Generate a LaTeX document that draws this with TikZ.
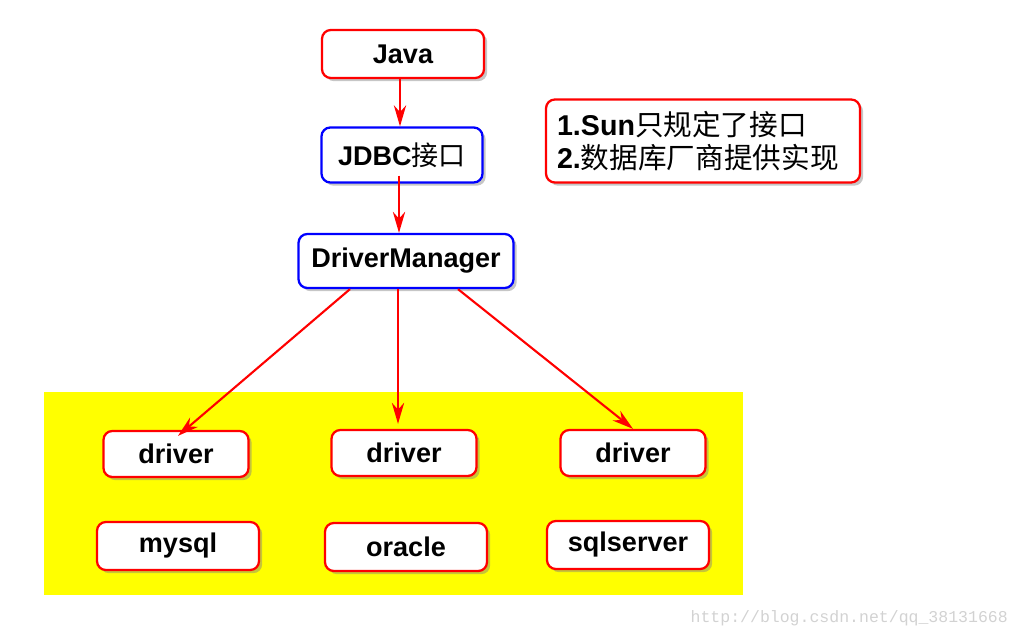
\documentclass[tikz,border=0pt]{standalone}
\usepackage{fontspec}
\setmainfont{Liberation Sans}
\newfontfamily\cjk{Noto Sans CJK SC}
\newfontfamily\wmfont{Liberation Mono}
\usepackage{xcolor}
\definecolor{areayellow}{RGB}{255,255,0}
\usepackage{tikz}
\usetikzlibrary{arrows.meta, positioning, shadows, calc}

\begin{document}
\begin{tikzpicture}[
    x=0.02cm, y=-0.02cm,
    box/.style={rectangle, draw, line width=1.3pt, rounded corners=5pt, fill=white, inner sep=0pt, align=center,
        font=\fontsize{15.4}{18.5}\selectfont\bfseries,
        drop shadow={shadow xshift=1.8pt, shadow yshift=-1.8pt, opacity=0.45, fill=gray}},
    redbox/.style={box, draw=red},
    bluebox/.style={box, draw=blue},
    arrow/.style={-{Stealth[length=12pt, width=7pt]}, red, line width=1.2pt},
]
    \useasboundingbox (0,0) rectangle (1024,638);

    % Vendor area
    \fill[areayellow] (44,392) rectangle (743,595);

    % Top chain
    \node[redbox, minimum width=3.24cm, minimum height=0.96cm] (java) at (403,54) {Java};
    \node[bluebox, minimum width=3.22cm, minimum height=1.1cm] (jdbc) at (402,155) {JDBC{\mdseries\cjk 接口}};
    \node[bluebox, minimum width=4.3cm, minimum height=1.08cm] (dm) at (406,261) {DriverManager};

    % Note
    \node[redbox, minimum height=1.66cm, inner xsep=0.22cm, text width=5.84cm, align=left,
        font=\fontsize{16.3}{18.8}\selectfont\bfseries] (note) at (703,141)
        {1.Sun{\mdseries\cjk 只规定了接口}\\2.{\mdseries\cjk 数据库厂商提供实现}};

    % Drivers
    \node[redbox, minimum width=2.9cm, minimum height=0.92cm] (drv1) at (176,454) {driver};
    \node[redbox, minimum width=2.9cm, minimum height=0.92cm] (drv2) at (404,453) {driver};
    \node[redbox, minimum width=2.9cm, minimum height=0.92cm] (drv3) at (633,453) {driver};

    % Databases
    \node[redbox, minimum width=3.24cm, minimum height=0.96cm] (mysql) at (178,546) {mysql};
    \node[redbox, minimum width=3.24cm, minimum height=0.96cm] (oracle) at (406,547) {oracle};
    \node[redbox, minimum width=3.24cm, minimum height=0.96cm] (sqlserver) at (628,545) {sqlserver};

    % Arrows
    \draw[arrow] ($(java.south)+(-3,0)$) -- ($(jdbc.north)+(-2,0)$);
    \draw[arrow] ($(jdbc.south)+(-3,-8)$) -- ($(dm.north)+(-7,0)$);
    \draw[arrow] ($(dm.south)+(-56,0)$) -- ($(drv1.north)+(2,6)$);
    \draw[arrow] ($(dm.south)+(-8,0)$) -- ($(drv2.north)+(-6,-5)$);
    \draw[arrow] ($(dm.south)+(52,0)$) -- ($(drv3.north)+(0,0)$);

    % Watermark
    \node[font=\wmfont\fontsize{9.4}{11}\selectfont, text=gray!35, anchor=east] (wm) at (1014,618) {http://blog.csdn.net/qq\_38131668};
\end{tikzpicture}
\end{document}
